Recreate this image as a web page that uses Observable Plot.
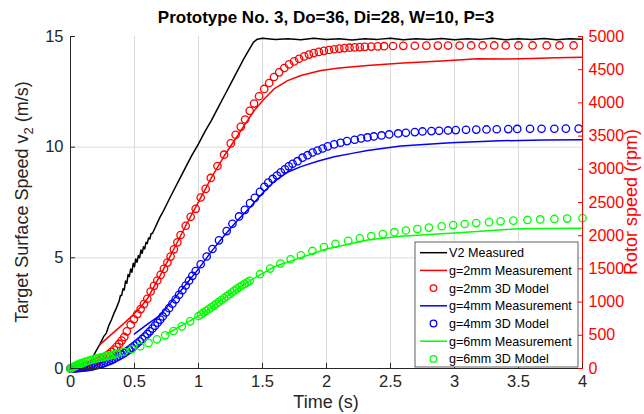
<!DOCTYPE html>
<html>
<head>
<meta charset="utf-8">
<script src="https://cdn.jsdelivr.net/npm/d3@7"></script>
<script src="https://cdn.jsdelivr.net/npm/@observablehq/plot@0.6"></script>
<style>
  html, body { margin: 0; padding: 0; background: #fff; }
  #chart { width: 644px; height: 414px; }
</style>
</head>
<body>
<div id="chart"></div>
<script>
// ---------- data ----------
const titleText = "Prototype No. 3, Do=36, Di=28, W=10, P=3";
const xTicks = [0, 0.5, 1, 1.5, 2, 2.5, 3, 3.5, 4];
const leftTicks = [0, 5, 10, 15];
const rpmTicks = [0, 500, 1000, 1500, 2000, 2500, 3000, 3500, 4000, 4500, 5000];
const legendLabels = ["V2 Measured", "g=2mm Measurement", "g=2mm 3D Model", "g=4mm Measurement", "g=4mm 3D Model", "g=6mm Measurement", "g=6mm 3D Model"];

// V2 measured [time s, m/s]
const v2Measured = [[0,0],[0.05,0.01],[0.1,0.02],[0.13,0.05],[0.16,0.35],[0.2,0.8],[0.23,1.1],[0.26,1.45],[0.28,1.6],[0.3,1.95],[0.32,2.2],[0.34,2.5],[0.36,2.75],[0.37,2.9],[0.38,3.05],[0.39,3.3],[0.40,3.3],[0.41,3.6],[0.42,3.55],[0.43,3.95],[0.44,3.85],[0.45,4.25],[0.46,4.15],[0.47,4.5],[0.48,4.35],[0.49,4.75],[0.50,4.6],[0.51,4.95],[0.52,4.8],[0.53,5.1],[0.54,5.0],[0.55,5.35],[0.56,5.2],[0.57,5.5],[0.58,5.4],[0.59,5.7],[0.60,5.65],[0.61,5.9],[0.62,5.85],[0.63,6.1],[0.64,6.1],[0.66,6.35],[0.68,6.6],[0.70,6.85],[0.72,7.05],[0.75,7.4],[0.78,7.75],[0.82,8.2],[0.86,8.65],[0.9,9.1],[0.95,9.65],[1.0,10.15],[1.05,10.7],[1.1,11.2],[1.15,11.75],[1.2,12.3],[1.25,12.85],[1.3,13.4],[1.35,13.95],[1.4,14.45],[1.43,14.75],[1.46,14.88],[1.5,14.92],[1.6,14.86],[1.7,14.9],[1.8,14.85],[1.9,14.92],[2.0,14.86],[2.1,14.9],[2.2,14.84],[2.3,14.9],[2.4,14.87],[2.5,14.92],[2.6,14.85],[2.7,14.9],[2.8,14.86],[2.9,14.91],[3.0,14.85],[3.1,14.9],[3.2,14.87],[3.3,14.92],[3.4,14.85],[3.5,14.9],[3.6,14.86],[3.7,14.91],[3.8,14.85],[3.9,14.9],[4.0,14.88]];

// rotor speeds [time s, rpm]
const g2Measurement = [[0.23,360],[0.3,480],[0.4,650],[0.48,790],[0.55,930],[0.6,1050],[0.7,1400],[0.8,1770],[0.9,2150],[1.0,2510],[1.1,2870],[1.2,3200],[1.3,3490],[1.36,3670],[1.434,3880],[1.513,4060],[1.59,4210],[1.696,4335],[1.8,4413],[1.956,4488],[2.1,4525],[2.32,4563],[2.6,4600],[2.9,4632],[3.18,4664],[3.4,4660],[3.6,4668],[3.8,4680],[4.0,4688]];

const g2Model = [[0,0],[0.02,2],[0.04,6],[0.06,11],[0.08,18],[0.1,27],[0.12,38],[0.14,50],[0.16,64],[0.18,80],[0.2,98],[0.22,118],[0.24,140],[0.26,164],[0.28,190],[0.3,218],[0.32,250],[0.34,285],[0.36,325],[0.38,370],[0.4,420],[0.42,475],[0.44,560],[0.47,660],[0.495,740],[0.522,820],[0.548,895],[0.574,970],[0.6,1050],[0.626,1160],[0.652,1245],[0.678,1325],[0.704,1410],[0.73,1500],[0.757,1595],[0.782,1685],[0.808,1795],[0.835,1900],[0.86,2010],[0.9,2150],[0.939,2285],[0.978,2405],[1.017,2575],[1.056,2705],[1.096,2870],[1.148,3050],[1.2,3220],[1.252,3390],[1.29,3520],[1.33,3640],[1.364,3750],[1.4,3880],[1.434,3990],[1.473,4100],[1.513,4210],[1.552,4300],[1.59,4390],[1.63,4460],[1.67,4525],[1.708,4580],[1.747,4625],[1.786,4665],[1.826,4700],[1.863,4728],[1.9,4750],[1.94,4768],[1.98,4784],[2.02,4797],[2.06,4808],[2.1,4818],[2.14,4825],[2.18,4831],[2.22,4836],[2.26,4840],[2.3,4844],[2.35,4848],[2.4,4851],[2.45,4854],[2.52,4857],[2.6,4859],[2.69,4861],[2.78,4862],[2.87,4863],[2.95,4864],[3.04,4864],[3.13,4865],[3.22,4865],[3.31,4865],[3.4,4865],[3.5,4865],[3.61,4865],[3.72,4865],[3.82,4865],[3.93,4865]];

const g4Measurement = [[0.5,520],[0.61,680],[0.7,800],[0.8,1030],[0.9,1260],[1.0,1500],[1.1,1760],[1.2,2000],[1.3,2220],[1.4,2420],[1.5,2640],[1.6,2830],[1.7,2960],[1.8,3040],[1.93,3120],[2.06,3190],[2.2,3240],[2.32,3283],[2.58,3350],[2.97,3399],[3.36,3430],[3.7,3440],[4.0,3444]];

const g4Model = [[0,0],[0.02,1],[0.04,3],[0.06,5],[0.08,8],[0.1,12],[0.12,17],[0.14,22],[0.16,29],[0.18,37],[0.2,46],[0.22,56],[0.24,67],[0.26,80],[0.28,94],[0.3,110],[0.32,127],[0.34,145],[0.36,165],[0.38,186],[0.4,208],[0.42,232],[0.44,258],[0.46,285],[0.48,314],[0.5,344],[0.52,376],[0.54,410],[0.56,445],[0.58,482],[0.6,520],[0.62,560],[0.64,602],[0.66,645],[0.68,690],[0.7,736],[0.72,784],[0.745,845],[0.77,908],[0.796,975],[0.822,1042],[0.848,1110],[0.874,1180],[0.9,1250],[0.926,1322],[0.952,1395],[0.978,1468],[1.017,1570],[1.064,1687],[1.109,1800],[1.16,1930],[1.22,2070],[1.265,2180],[1.317,2290],[1.362,2390],[1.403,2490],[1.44,2570],[1.48,2660],[1.515,2735],[1.545,2800],[1.58,2855],[1.613,2905],[1.643,2955],[1.675,3000],[1.705,3045],[1.735,3083],[1.774,3122],[1.813,3175],[1.852,3212],[1.891,3253],[1.93,3283],[1.97,3313],[2.01,3345],[2.06,3375],[2.11,3400],[2.16,3425],[2.22,3445],[2.27,3465],[2.32,3480],[2.37,3495],[2.43,3510],[2.49,3525],[2.56,3540],[2.62,3550],[2.69,3560],[2.75,3570],[2.82,3575],[2.88,3580],[2.95,3585],[3.01,3590],[3.09,3595],[3.17,3598],[3.25,3600],[3.33,3603],[3.42,3606],[3.49,3608],[3.59,3610],[3.68,3610],[3.78,3611],[3.87,3612],[3.97,3612]];

const g6Measurement = [[0.75,520],[1.0,790],[1.2,1060],[1.4,1320],[1.6,1540],[1.8,1670],[2.0,1800],[2.32,1935],[2.58,1990],[3.03,2043],[3.5,2104],[4.0,2113]];

const g6Model = [[0,0],[0.01,10],[0.02,20],[0.03,30],[0.04,40],[0.05,50],[0.06,58],[0.07,66],[0.08,74],[0.09,82],[0.1,90],[0.12,104],[0.14,116],[0.16,128],[0.18,138],[0.2,148],[0.22,158],[0.24,167],[0.26,176],[0.28,185],[0.3,194],[0.32,203],[0.34,212],[0.36,222],[0.415,250],[0.48,290],[0.545,335],[0.61,385],[0.675,440],[0.74,500],[0.805,565],[0.87,635],[0.935,710],[1.0,790],[1.02,815],[1.04,842],[1.06,868],[1.08,894],[1.1,920],[1.12,948],[1.14,976],[1.16,1004],[1.18,1032],[1.2,1060],[1.22,1088],[1.24,1116],[1.26,1144],[1.28,1172],[1.3,1200],[1.32,1225],[1.34,1250],[1.36,1274],[1.38,1298],[1.4,1320],[1.48,1420],[1.56,1505],[1.64,1580],[1.72,1645],[1.8,1705],[1.89,1770],[1.98,1830],[2.07,1878],[2.17,1922],[2.26,1960],[2.35,1995],[2.44,2025],[2.53,2053],[2.62,2078],[2.71,2100],[2.8,2122],[2.9,2142],[2.99,2160],[3.08,2176],[3.17,2190],[3.27,2204],[3.36,2216],[3.46,2227],[3.57,2237],[3.67,2245],[3.78,2252],[3.88,2258],[4.0,2264]];

// ---------- chart ----------
const K = 15 / 5000; // left axis units per rpm (right axis 0-5000 spans left 0-15)
const font = "'Liberation Sans', Arial, Helvetica, sans-serif";
const RED = "#ff0000", BLUE = "#0000ff", GREEN = "#00ff00";
const lineW = 1.5, dotR = 3.7, dotW = 1.3;

const px = d => d[0];
const pv = d => d[1];
const pr = d => d[1] * K;

const chart = Plot.plot({
  width: 644, height: 414,
  marginTop: 36, marginBottom: 46, marginLeft: 70, marginRight: 62,
  style: {fontFamily: font, fontSize: "16px", background: "#fff", color: "#262626", overflow: "visible"},
  x: {domain: [0, 4], label: null},
  y: {domain: [0, 15], label: null},
  marks: [
    Plot.gridX(xTicks.slice(1, -1), {stroke: "#dcdcdc", strokeOpacity: 1}),
    Plot.gridY(leftTicks.slice(1, -1), {stroke: "#dcdcdc", strokeOpacity: 1}),
    Plot.line(v2Measured, {x: px, y: pv, stroke: "#000", strokeWidth: lineW}),
    Plot.line(g2Measurement, {x: px, y: pr, stroke: RED, strokeWidth: lineW}),
    Plot.dot(g2Model, {x: px, y: pr, r: dotR, stroke: RED, strokeWidth: dotW, fill: "none"}),
    Plot.line(g4Measurement, {x: px, y: pr, stroke: BLUE, strokeWidth: lineW}),
    Plot.dot(g4Model, {x: px, y: pr, r: dotR, stroke: BLUE, strokeWidth: dotW, fill: "none"}),
    Plot.line(g6Measurement, {x: px, y: pr, stroke: GREEN, strokeWidth: lineW}),
    Plot.dot(g6Model, {x: px, y: pr, r: dotR, stroke: GREEN, strokeWidth: dotW, fill: "none"}),
    Plot.ruleX([0], {stroke: "#262626"}),
    Plot.ruleY([0], {stroke: "#262626"}),
    Plot.ruleX([4], {stroke: RED}),
    Plot.axisX({ticks: xTicks, tickSize: -5, tickPadding: 12, tickFormat: d => String(d), label: null, stroke: "#262626", fill: "#262626", fontSize: 16.5}),
    Plot.axisY({ticks: leftTicks, tickSize: -5, tickPadding: 12, tickFormat: d => String(d), label: null, stroke: "#262626", fill: "#262626", fontSize: 16.5}),
    Plot.axisY({anchor: "right", ticks: rpmTicks.map(r => r * K), tickSize: -5, tickPadding: 11,
      tickFormat: d => String(Math.round(d / K)), label: null, stroke: RED, fill: RED, fontSize: 16})
  ]
});

document.getElementById("chart").appendChild(chart);

// ---------- titles, axis labels, legend ----------
const svg = d3.select(chart);
const fx = 70, fr = 582, fTop = 36, fBot = 368;
const cx = (fx + fr) / 2, cy = (fTop + fBot) / 2;

svg.append("text").attr("x", cx).attr("y", 23).attr("text-anchor", "middle")
  .attr("font-family", font).attr("font-size", 17).attr("font-weight", "bold").attr("fill", "#000")
  .text(titleText);

svg.append("text").attr("x", cx).attr("y", 408).attr("text-anchor", "middle")
  .attr("font-family", font).attr("font-size", 18).attr("fill", "#262626")
  .text("Time (s)");

const yl = svg.append("text").attr("transform", `translate(28,${cy}) rotate(-90)`).attr("text-anchor", "middle")
  .attr("font-family", font).attr("font-size", 18).attr("fill", "#262626");
yl.append("tspan").text("Target Surface Speed v");
yl.append("tspan").attr("font-size", 13).attr("dy", "0.35em").text("2");
yl.append("tspan").attr("dy", "-0.25em").text(" (m/s)");

svg.append("text").attr("transform", `translate(637,${cy}) rotate(-90)`).attr("text-anchor", "middle")
  .attr("font-family", font).attr("font-size", 18).attr("fill", RED)
  .text("Rotor speed (rpm)");

const lg = svg.append("g").attr("text-anchor", "start");
const lgX = 415, lgY = 242, lgW = 163, lgH = 125, rowY0 = 252.7, rowStep = 17.7;
lg.append("rect").attr("x", lgX).attr("y", lgY).attr("width", lgW).attr("height", lgH)
  .attr("fill", "#fff").attr("stroke", "#3a3a3a").attr("stroke-width", 0.8);
const legendStyle = [
  {c: "#000", t: "line"}, {c: RED, t: "line"}, {c: RED, t: "dot"},
  {c: BLUE, t: "line"}, {c: BLUE, t: "dot"}, {c: GREEN, t: "line"}, {c: GREEN, t: "dot"}
];
legendLabels.forEach((lab, i) => {
  const y = rowY0 + i * rowStep;
  const s = legendStyle[i];
  if (s.t === "line") {
    lg.append("line").attr("x1", 420).attr("x2", 447).attr("y1", y).attr("y2", y)
      .attr("stroke", s.c).attr("stroke-width", 1.5);
  } else {
    lg.append("circle").attr("cx", 433.5).attr("cy", y).attr("r", 3.3)
      .attr("fill", "none").attr("stroke", s.c).attr("stroke-width", 1.3);
  }
  lg.append("text").attr("x", 449).attr("y", y).attr("dy", "0.36em").attr("text-anchor", "start")
    .attr("font-family", font).attr("font-size", 12.6).attr("fill", "#000").text(lab);
});
</script>
</body>
</html>
